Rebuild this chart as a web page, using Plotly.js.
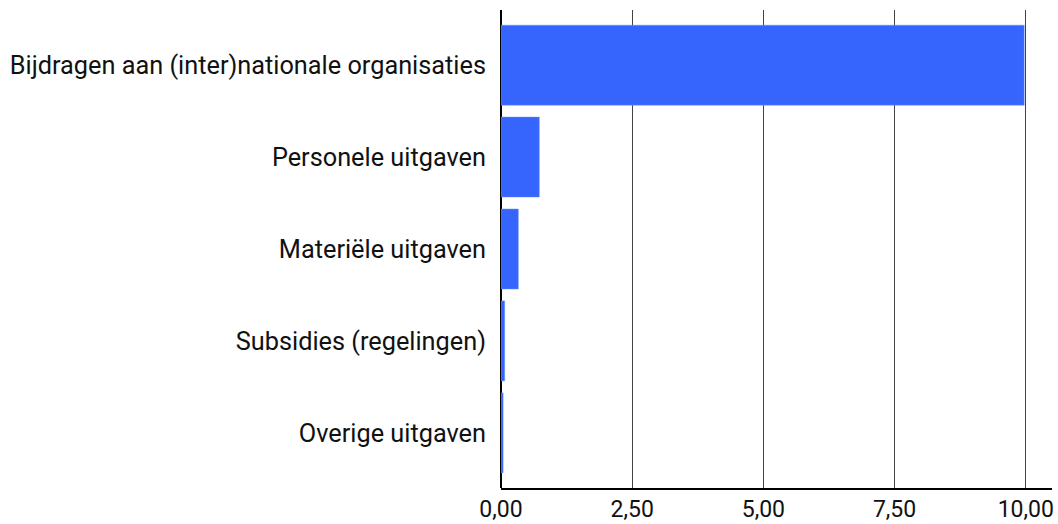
<!DOCTYPE html>
<html><head><meta charset="utf-8">
<script src="https://cdn.plot.ly/plotly-3.0.1.min.js"></script>
<style>html,body{margin:0;padding:0;background:#fff}#chart{width:1058px;height:524px}</style>
</head><body><div id="chart"></div>
<script>
const categories = ["Bijdragen aan (inter)nationale organisaties","Personele uitgaven","Materiële uitgaven","Subsidies (regelingen)","Overige uitgaven"];
const values = [9.97, 0.73, 0.33, 0.07, 0.04];
const tickVals = [0, 2.5, 5, 7.5, 10];

Plotly.newPlot('chart', [{
  type: 'bar', orientation: 'h',
  y: categories, x: values,
  width: 0.87,
  marker: {color: '#3565FD', line: {color: '#6b8dff', width: 0.5}},
  hoverinfo: 'x+y'
}], {
  width: 1058, height: 524,
  margin: {l: 501, r: 6, t: 10, b: 36},
  separators: ',.',
  paper_bgcolor: '#fff', plot_bgcolor: '#fff',
  showlegend: false,
  font: {family: 'Roboto, sans-serif', size: 24, color: '#111'},
  xaxis: {
    range: [0, 10.5], tickvals: tickVals, tickformat: '.2f',
    showgrid: true, gridcolor: '#444', gridwidth: 1,
    zeroline: true, zerolinecolor: '#000', zerolinewidth: 1.5,
    showline: true, linecolor: '#000', linewidth: 1.5,
    ticks: '', tickfont: {size: 23, color: '#111'}, ticklabelstandoff: 0
  },
  yaxis: {
    range: [4.6, -0.6], showgrid: false, zeroline: false, showline: false,
    ticks: '', ticklabelstandoff: 14, tickfont: {size: 25.3, color: '#111'}
  }
}, {displayModeBar: false, staticPlot: true});
</script></body></html>
